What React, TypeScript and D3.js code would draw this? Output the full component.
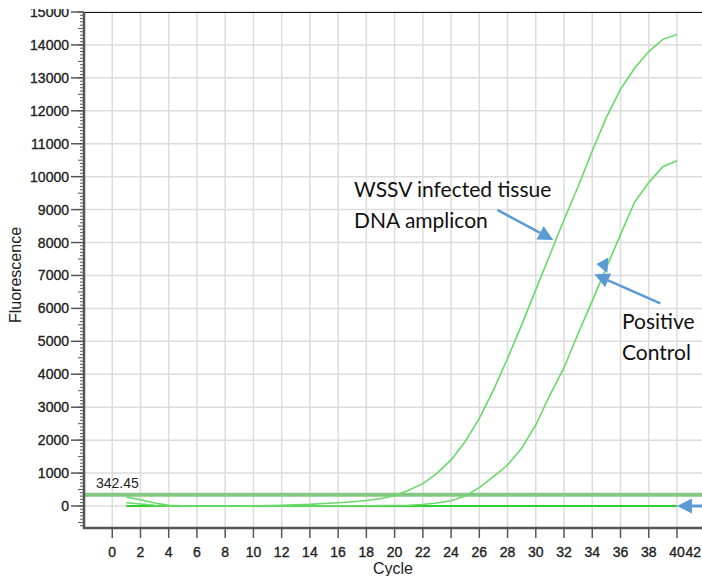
import React from "react";
import * as d3 from "d3";

// qPCR amplification curves (cycles 1..40)
const cycles = d3.range(1, 41);
const wssvValues = [
  270, 190, 90, 20, 5, 0, 0, 0, 2, 5, 12, 20, 35, 50, 75, 100, 130, 165, 220, 320,
  480, 680, 990, 1400, 1960, 2660, 3520, 4480, 5500, 6570, 7630, 8690, 9700, 10780,
  11800, 12650, 13290, 13800, 14170, 14320,
];
const positiveValues = [
  100, 60, 25, 5, 0, 0, 0, 0, 0, 0, 0, 0, 0, 2, 3, 5, 6, 8, 10, 15,
  25, 45, 90, 160, 300, 556, 890, 1245, 1750, 2460, 3370, 4200, 5240, 6230,
  7240, 8240, 9230, 9820, 10300, 10480,
];
const negativeValues = cycles.map(() => 0);
const threshold = 342.45;

const xTicks = d3.range(0, 43, 2);
const yTicks = d3.range(0, 15001, 1000);
const yMinorTicks = d3.range(-600, 15001, 100);

// annotation anchors in data units [cycle, fluorescence]
const arrowWssv = { from: [27.28, 8990], to: [31.24, 8078] };
const arrowPositive = { from: [38.82, 6155], to: [34.15, 7036] };
const loneHead = [34.29, 7350];
const arrowNegative = { from: [42.2, 0], to: [40, 0] };

const W = 702;
const H = 576;
const blue = "#5b9bd5";
const axisFont = "Liberation Sans, Arial, sans-serif";

const x = d3.scaleLinear().domain([-2, 42]).range([84, 705.2]);
const y = d3.scaleLinear().domain([-668, 15000]).range([528, 12]);

const Arrow = ({ from, to, head = 15, half = 7.5, width = 2.5 }) => {
  const [x1, y1] = [x(from[0]), y(from[1])];
  const [x2, y2] = [x(to[0]), y(to[1])];
  const ang = Math.atan2(y2 - y1, x2 - x1);
  const bx = x2 - head * Math.cos(ang);
  const by = y2 - head * Math.sin(ang);
  const px = -Math.sin(ang) * half;
  const py = Math.cos(ang) * half;
  return (
    <g>
      <line x1={x1} y1={y1} x2={bx} y2={by} stroke={blue} strokeWidth={width} />
      <polygon
        points={`${x2},${y2} ${bx + px},${by + py} ${bx - px},${by - py}`}
        fill={blue}
      />
    </g>
  );
};

export default function App() {
  const line = d3
    .line<number>()
    .x((_, i) => x(cycles[i]))
    .y((d) => y(d));

  const hx = x(loneHead[0]);
  const hy = y(loneHead[1]);
  const lastTick = xTicks[xTicks.length - 1];

  return (
    <div style={{ position: "absolute", left: 0, top: 0 }}>
      <svg width={W} height={H} style={{ display: "block", background: "#fff" }}>
        <defs>
          <clipPath id="plot">
            <rect x={84} y={12} width={W - 84} height={516} />
          </clipPath>
        </defs>

        {/* grid */}
        <g stroke="#dcdcdc" strokeWidth={1.5}>
          {xTicks.map((t) => (
            <line key={"gx" + t} x1={x(t)} x2={x(t)} y1={12} y2={528} />
          ))}
          {yTicks.map((t) => (
            <line key={"gy" + t} x1={84} x2={W} y1={y(t)} y2={y(t)} />
          ))}
        </g>
        <line x1={84} x2={W} y1={12.5} y2={12.5} stroke="#111" strokeWidth={1.2} />

        {/* threshold */}
        <line
          x1={84}
          x2={W}
          y1={y(threshold)}
          y2={y(threshold)}
          stroke="#84c884"
          strokeWidth={4}
        />
        <text x={96} y={488} fontFamily={axisFont} fontSize={14} fill="#222">
          {threshold.toFixed(2)}
        </text>

        {/* curves */}
        <g clipPath="url(#plot)" fill="none">
          <path d={line(negativeValues) ?? ""} stroke="#2fcf2f" strokeWidth={2} />
          <path d={line(positiveValues) ?? ""} stroke="#6ad86a" strokeWidth={1.6} />
          <path d={line(wssvValues) ?? ""} stroke="#6ad86a" strokeWidth={1.6} />
        </g>

        {/* y axis */}
        <g stroke="#555">
          {yMinorTicks.map((t) => (
            <line
              key={"ym" + t}
              x1={t % 500 === 0 ? 78 : 80}
              x2={84}
              y1={y(t)}
              y2={y(t)}
              strokeWidth={1}
            />
          ))}
          {yTicks.map((t) => (
            <line key={"yt" + t} x1={71} x2={84} y1={y(t)} y2={y(t)} strokeWidth={1.5} />
          ))}
          <line x1={84} x2={84} y1={12} y2={529} strokeWidth={2.5} />
        </g>
        <g
          fontFamily={axisFont}
          fontSize={14}
          fill="#222"
          stroke="#222"
          strokeWidth={0.35}
          textAnchor="end"
        >
          {yTicks.map((t) => (
            <text key={"yl" + t} x={69} y={y(t) + 5}>
              {t}
            </text>
          ))}
        </g>
        <rect x={0} y={0} width={80} height={9} fill="#fff" />

        {/* x axis */}
        <g stroke="#555">
          <line x1={83} x2={W} y1={528} y2={528} strokeWidth={2.5} />
          {xTicks.map((t) => (
            <line key={"xt" + t} x1={x(t)} x2={x(t)} y1={528} y2={538} strokeWidth={1.5} />
          ))}
        </g>
        <g
          fontFamily={axisFont}
          fontSize={14}
          fill="#222"
          stroke="#222"
          strokeWidth={0.35}
          textAnchor="middle"
        >
          {xTicks.map((t) =>
            t === lastTick ? (
              <text key={"xl" + t} x={W - 1} y={557} textAnchor="end">
                {t}
              </text>
            ) : (
              <text key={"xl" + t} x={x(t)} y={557}>
                {t}
              </text>
            )
          )}
        </g>

        {/* axis titles */}
        <text x={393} y={574} textAnchor="middle" fontFamily={axisFont} fontSize={16} fill="#222">
          Cycle
        </text>
        <text
          transform="translate(21,275) rotate(-90)"
          textAnchor="middle"
          fontFamily={axisFont}
          fontSize={16}
          fill="#222"
        >
          Fluorescence
        </text>

        {/* annotations */}
        <g fontFamily="Lato, Open Sans, sans-serif" fontSize={21} fill="#111">
          <text x={354} y={197}>WSSV infected tissue</text>
          <text x={354} y={228}>DNA amplicon</text>
          <text x={622} y={329}>Positive</text>
          <text x={622} y={360}>Control</text>
        </g>
        <Arrow from={arrowWssv.from} to={arrowWssv.to} />
        <Arrow from={arrowPositive.from} to={arrowPositive.to} />
        <polygon
          points={`${hx},${hy} ${hx + 12},${hy - 6.5} ${hx + 11},${hy + 9}`}
          fill={blue}
        />
        <Arrow from={arrowNegative.from} to={arrowNegative.to} head={15} half={7.5} width={3} />
      </svg>
    </div>
  );
}
